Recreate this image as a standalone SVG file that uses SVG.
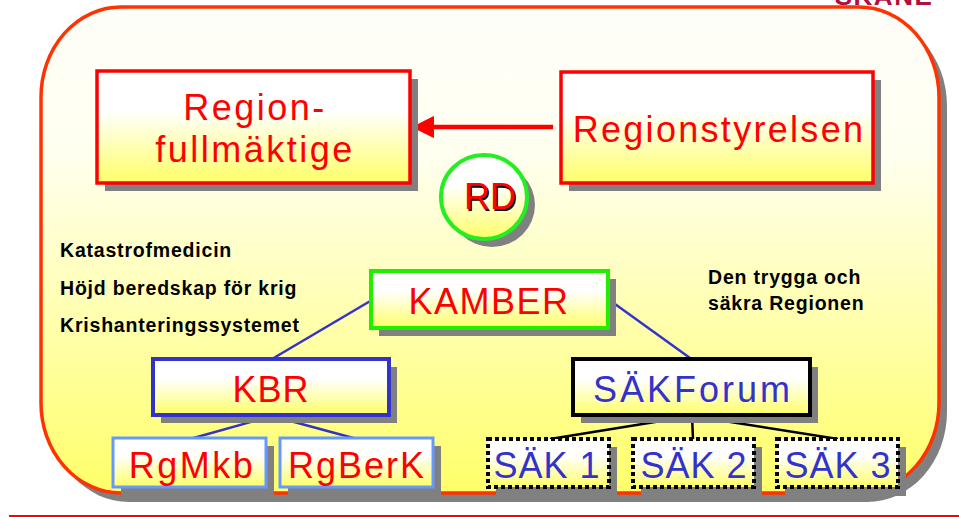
<svg xmlns="http://www.w3.org/2000/svg" width="959" height="517" viewBox="0 0 959 517">
  <defs>
    <linearGradient id="bg" x1="0" y1="0" x2="0" y2="1">
      <stop offset="0" stop-color="#fefef9"/>
      <stop offset="0.3" stop-color="#fffff0"/>
      <stop offset="1" stop-color="#ffff6a"/>
    </linearGradient>
    <linearGradient id="box" x1="0" y1="0" x2="0" y2="1">
      <stop offset="0" stop-color="#ffffff"/>
      <stop offset="0.35" stop-color="#ffffff"/>
      <stop offset="1" stop-color="#ffff66"/>
    </linearGradient>
    <marker id="arrow" viewBox="0 0 10 10" refX="9" refY="5" markerWidth="5" markerHeight="5" orient="auto" markerUnits="strokeWidth">
      <path d="M0,0 L10,5 L0,10 z" fill="#ff0000"/>
    </marker>
  </defs>
  <style>
    .shadow { fill: #808080; }
    .box { fill: url(#box); }
    .lbl { font-family: "Liberation Sans", Arial, sans-serif; font-size: 36px; text-anchor: middle; }
    .red { fill: #ff0000; }
    .blue { fill: #3333cc; }
    .side { font-family: "Liberation Sans", Arial, sans-serif; font-size: 19.5px; font-weight: bold; fill: #000; letter-spacing: 0.8px; }
    .conn-blue { stroke: #3333cc; stroke-width: 2.5; fill: none; }
    .conn-black { stroke: #000; stroke-width: 2.5; fill: none; }
  </style>

  <!-- background panel -->
  <g id="panel">
    <text x="884" y="5" font-family="Liberation Sans, Arial, sans-serif" font-size="26" font-weight="bold" fill="#b01040" text-anchor="middle" letter-spacing="1.5">SKÅNE</text>
    <rect x="49" y="16" width="898" height="486" rx="80" ry="90" fill="#808080"/>
    <rect x="41" y="7" width="898" height="486" rx="80" ry="90" fill="url(#bg)" stroke="#ff3300" stroke-width="3.5"/>
    <line x1="9" y1="516" x2="959" y2="516" stroke="#ff0000" stroke-width="2"/>
  </g>

  <!-- side texts -->
  <g id="left-notes">
    <text class="side" x="60" y="257">Katastrofmedicin</text>
    <text class="side" x="60" y="295">Höjd beredskap för krig</text>
    <text class="side" x="60" y="332">Krishanteringssystemet</text>
  </g>
  <g id="right-notes">
    <text class="side" x="708" y="284">Den trygga och</text>
    <text class="side" x="708" y="310">säkra Regionen</text>
  </g>

  <!-- connectors -->
  <g id="connectors">
    <line x1="553" y1="127" x2="414" y2="127" stroke="#ff0000" stroke-width="4.5" marker-end="url(#arrow)"/>
    <line class="conn-blue" x1="372" y1="300" x2="272" y2="359"/>
    <line class="conn-blue" x1="608" y1="299" x2="690" y2="358"/>
    <line class="conn-blue" x1="272" y1="416" x2="190" y2="439"/>
    <line class="conn-blue" x1="272" y1="416" x2="357" y2="439"/>
    <line class="conn-black" x1="692" y1="416" x2="550" y2="439"/>
    <line class="conn-black" x1="692" y1="416" x2="693" y2="439"/>
    <line class="conn-black" x1="692" y1="416" x2="838" y2="439"/>
  </g>

  <g id="regionfullmaktige">
    <rect class="shadow" x="105" y="79" width="313" height="112"/>
    <rect class="box" x="97" y="71" width="313" height="112" stroke="#ff0000" stroke-width="3.5"/>
    <text class="lbl red" x="255" y="120" letter-spacing="2.5">Region-</text>
    <text class="lbl red" x="255" y="162" letter-spacing="2.5">fullmäktige</text>
  </g>

  <g id="regionstyrelsen">
    <rect class="shadow" x="569" y="80" width="312" height="111"/>
    <rect class="box" x="561" y="72" width="312" height="111" stroke="#ff0000" stroke-width="3.5"/>
    <text class="lbl red" x="719" y="142" letter-spacing="2.3">Regionstyrelsen</text>
  </g>

  <g id="rd">
    <ellipse class="shadow" cx="492" cy="205" rx="43" ry="42"/>
    <ellipse class="box" cx="484" cy="197" rx="43" ry="42" stroke="#22ee22" stroke-width="4"/>
    <text class="lbl" x="491.5" y="210.5" fill="#000">RD</text>
    <text class="lbl red" x="490" y="209">RD</text>
  </g>

  <g id="kamber">
    <rect class="shadow" x="379" y="279" width="237" height="57"/>
    <rect class="box" x="371" y="271" width="237" height="57" stroke="#22ee00" stroke-width="4"/>
    <text class="lbl red" x="489" y="314" letter-spacing="1.5">KAMBER</text>
  </g>

  <g id="kbr">
    <rect class="shadow" x="161" y="367" width="236" height="56"/>
    <rect class="box" x="153" y="359" width="236" height="56" stroke="#3333cc" stroke-width="4"/>
    <text class="lbl red" x="271" y="402" letter-spacing="1">KBR</text>
  </g>

  <g id="rgmkb">
    <rect class="shadow" x="121" y="446" width="153" height="50"/>
    <rect class="box" x="113" y="438" width="153" height="49" stroke="#6699ff" stroke-width="3"/>
    <text class="lbl red" x="192" y="478" letter-spacing="2.5">RgMkb</text>
  </g>

  <g id="rgberk">
    <rect class="shadow" x="288" y="446" width="153" height="50"/>
    <rect class="box" x="280" y="438" width="153" height="49" stroke="#6699ff" stroke-width="3"/>
    <text class="lbl red" x="357" y="478" letter-spacing="2">RgBerK</text>
  </g>

  <g id="sakforum">
    <rect class="shadow" x="581" y="367" width="237" height="56"/>
    <rect class="box" x="573" y="359" width="237" height="56" stroke="#000" stroke-width="4"/>
    <text class="lbl blue" x="693" y="402" letter-spacing="3">SÄKForum</text>
  </g>

  <g id="sak1">
    <rect class="shadow" x="496" y="447" width="121" height="49"/>
    <rect class="box" x="488" y="439" width="121" height="48" stroke="#000" stroke-width="4" stroke-dasharray="4 3"/>
    <text class="lbl blue" x="547" y="478" letter-spacing="1">SÄK 1</text>
  </g>

  <g id="sak2">
    <rect class="shadow" x="641" y="447" width="121" height="49"/>
    <rect class="box" x="633" y="439" width="121" height="48" stroke="#000" stroke-width="4" stroke-dasharray="4 3"/>
    <text class="lbl blue" x="694" y="478" letter-spacing="1">SÄK 2</text>
  </g>

  <g id="sak3">
    <rect class="shadow" x="785" y="447" width="121" height="49"/>
    <rect class="box" x="777" y="439" width="121" height="48" stroke="#000" stroke-width="4" stroke-dasharray="4 3"/>
    <text class="lbl blue" x="838" y="478" letter-spacing="1">SÄK 3</text>
  </g>
</svg>
